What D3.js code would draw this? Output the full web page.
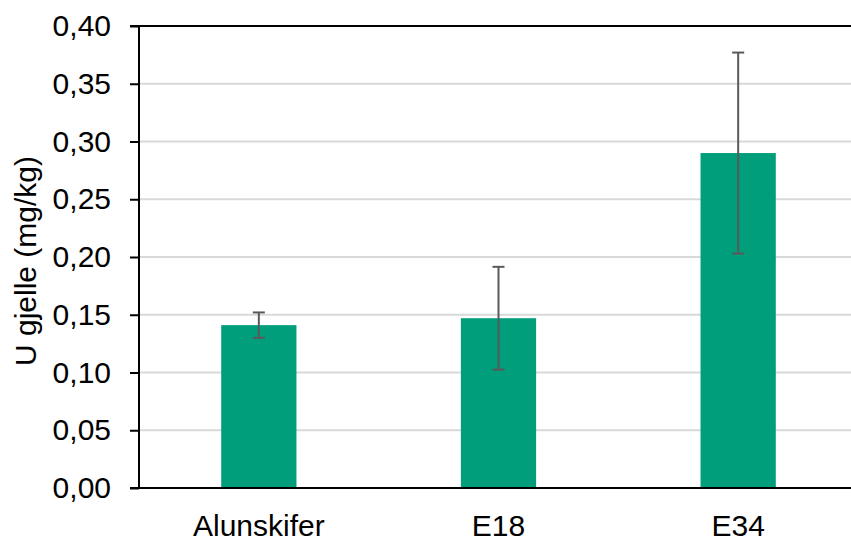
<!DOCTYPE html>
<html>
<head>
<meta charset="utf-8">
<script src="https://cdn.jsdelivr.net/npm/d3@7"></script>
<style>
  html, body { margin: 0; padding: 0; background: #fff; }
  svg { display: block; }
  text { font-family: "Liberation Sans", Arial, sans-serif; fill: #000; }
</style>
</head>
<body>
<svg id="chart" width="851" height="539"></svg>
<script>
// Uranium in gill, mean with error (mg/kg)
const categories = ["Alunskifer", "E18", "E34"];
const means = [0.141, 0.147, 0.290];
const errors = [0.011, 0.0445, 0.087];
const yTicks = [0, 0.05, 0.10, 0.15, 0.20, 0.25, 0.30, 0.35, 0.40];

const svg = d3.select("#chart");
const margin = { left: 139, right: -7, top: 26, bottom: 51 };
const W = 851, H = 539;
const FONT = "30px";

const x = d3.scaleBand()
  .domain(categories)
  .range([margin.left, W - margin.right])
  .paddingInner(0.686)
  .paddingOuter(0.343);

const y = d3.scaleLinear().domain([0, 0.40]).range([H - margin.bottom, margin.top]);

const fmt = d => d3.format(".2f")(d).replace(".", ",");

// gridlines
svg.append("g")
  .selectAll("line")
  .data(yTicks.filter(t => t > 0 && t < 0.40))
  .join("line")
  .attr("x1", margin.left).attr("x2", W)
  .attr("y1", d => y(d)).attr("y2", d => y(d))
  .attr("stroke", "#d9d9d9").attr("stroke-width", 2);

// bars
svg.append("g")
  .selectAll("rect")
  .data(categories)
  .join("rect")
  .attr("x", d => x(d))
  .attr("width", x.bandwidth())
  .attr("y", (d, i) => y(means[i]))
  .attr("height", (d, i) => y(0) - y(means[i]))
  .attr("fill", "#009e7b");

// error bars
const eb = svg.append("g").attr("stroke", "#595959").attr("stroke-width", 2);
categories.forEach((c, i) => {
  const cx = x(c) + x.bandwidth() / 2;
  const lo = y(means[i] - errors[i]), hi = y(means[i] + errors[i]);
  eb.append("line").attr("x1", cx).attr("x2", cx).attr("y1", lo).attr("y2", hi);
  eb.append("line").attr("x1", cx - 6).attr("x2", cx + 6).attr("y1", lo).attr("y2", lo);
  eb.append("line").attr("x1", cx - 6).attr("x2", cx + 6).attr("y1", hi).attr("y2", hi);
});

// top border line
svg.append("line")
  .attr("x1", margin.left).attr("x2", W)
  .attr("y1", y(0.40)).attr("y2", y(0.40))
  .attr("stroke", "#000").attr("stroke-width", 2);

// y axis
const yAxis = d3.axisLeft(y).tickValues(yTicks).tickFormat(fmt).tickSize(9).tickPadding(19);
const gy = svg.append("g").attr("transform", `translate(${margin.left},0)`).call(yAxis);
gy.select(".domain").attr("stroke", "#000").attr("stroke-width", 2).attr("d", `M-9,${y(0.40)}H0V${y(0)}H-9`);
gy.selectAll(".tick line").attr("stroke", "#000").attr("stroke-width", 2);
gy.selectAll(".tick text").style("font-size", FONT).attr("fill", "#000")
  .style("font-family", '"Liberation Sans", Arial, sans-serif');

// x axis
const xAxis = d3.axisBottom(x).tickSize(0).tickPadding(27);
const gx = svg.append("g").attr("transform", `translate(0,${y(0)})`).call(xAxis);
gx.select(".domain").attr("stroke", "#000").attr("stroke-width", 2).attr("d", `M${margin.left},0H${W}`);
gx.selectAll(".tick text").style("font-size", FONT).attr("fill", "#000")
  .style("font-family", '"Liberation Sans", Arial, sans-serif');

// y axis title
svg.append("text")
  .attr("transform", `translate(36,${(y(0) + y(0.40)) / 2 + 4}) rotate(-90)`)
  .attr("text-anchor", "middle")
  .style("font-size", FONT)
  .text("U gjelle (mg/kg)");
</script>
</body>
</html>
